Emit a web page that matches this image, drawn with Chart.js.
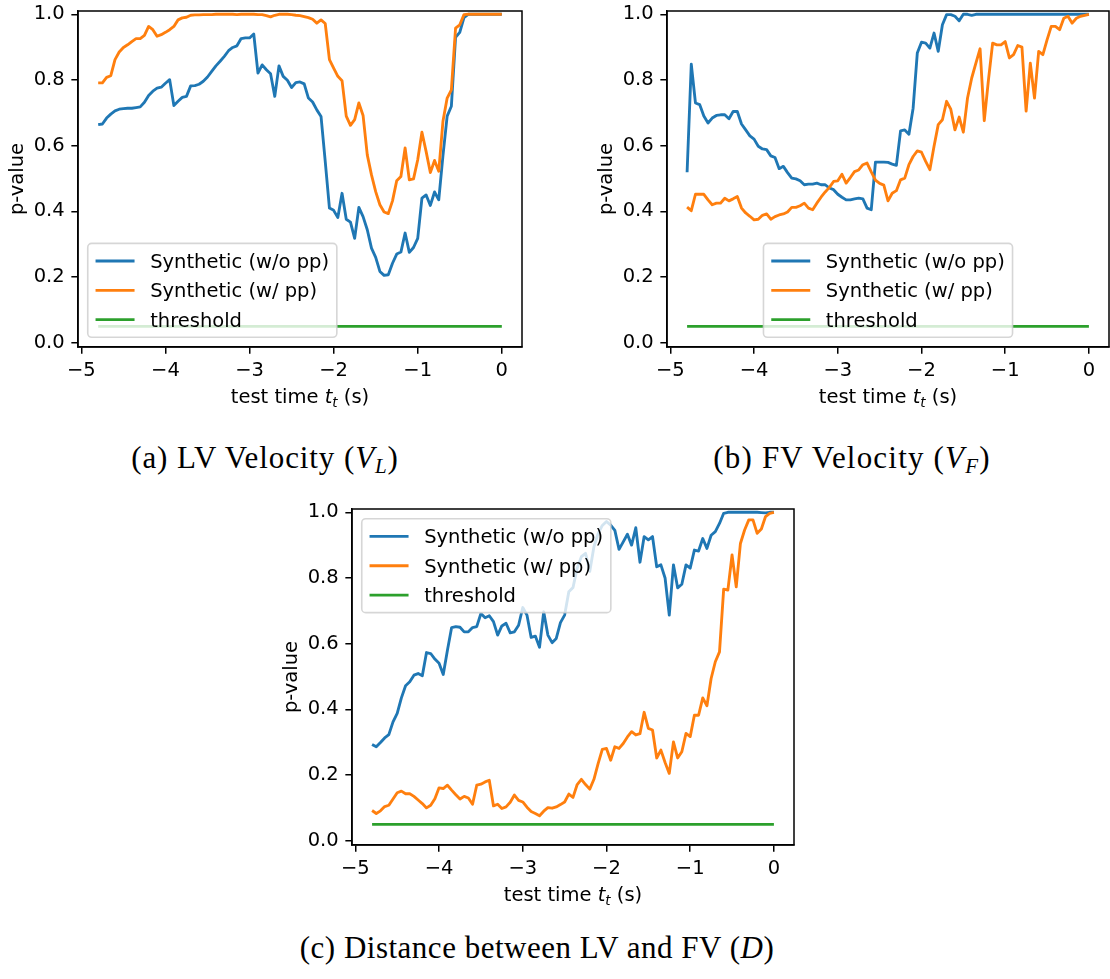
<!DOCTYPE html>
<html>
<head>
<meta charset="utf-8">
<script src="https://cdn.jsdelivr.net/npm/chart.js@4.4.1/dist/chart.umd.min.js"></script>
<style>
  html, body { margin: 0; padding: 0; background: #fff; }
  body { width: 1110px; height: 979px; position: relative; overflow: hidden; }
  canvas { position: absolute; }
  .xlabel {
    position: absolute; font-family: "DejaVu Sans"; font-size: 19.5px; line-height: 19px;
    color: #000; white-space: nowrap; transform: translateX(-50%);
  }
  .xlabel .m { font-style: oblique; }
  .xlabel .sub { font-style: oblique; font-size: 13.5px; vertical-align: -4px; }
  .caption {
    position: absolute; font-family: "Liberation Serif"; font-size: 31px; line-height: 30px;
    letter-spacing: 0.9px; color: #000; white-space: nowrap; transform: translateX(-50%);
  }
  .caption i { font-style: italic; }
  .caption sub { font-size: 21px; vertical-align: -5px; font-style: italic; }
</style>
</head>
<body>
<canvas id="chartLV" width="560" height="420" style="left:0px;top:0px"></canvas>
<canvas id="chartFV" width="521" height="420" style="left:589px;top:0px"></canvas>
<canvas id="chartDist" width="560" height="420" style="left:274px;top:498px"></canvas>

<div class="xlabel" style="left:300px;top:387px">test time <span class="m">t</span><span class="sub">t</span> (s)</div>
<div class="xlabel" style="left:888px;top:387px">test time <span class="m">t</span><span class="sub">t</span> (s)</div>
<div class="xlabel" style="left:573px;top:885px">test time <span class="m">t</span><span class="sub">t</span> (s)</div>

<div class="caption" style="left:265px;top:443px">(a) LV Velocity (<i>V</i><sub>L</sub>)</div>
<div class="caption" style="left:852px;top:443px;letter-spacing:1.2px">(b) FV Velocity (<i>V</i><sub>F</sub>)</div>
<div class="caption" style="left:537px;top:933px;letter-spacing:0.5px">(c) Distance between LV and FV (<i>D</i>)</div>

<script>
// Test time of each evaluation window (s)
const testTime = [
  -4.80,-4.75,-4.70,-4.65,-4.60,-4.55,-4.50,-4.45,-4.40,-4.35,
  -4.30,-4.25,-4.20,-4.15,-4.10,-4.05,-4.00,-3.95,-3.90,-3.85,
  -3.80,-3.75,-3.70,-3.65,-3.60,-3.55,-3.50,-3.45,-3.40,-3.35,
  -3.30,-3.25,-3.20,-3.15,-3.10,-3.05,-3.00,-2.95,-2.90,-2.85,
  -2.80,-2.75,-2.70,-2.65,-2.60,-2.55,-2.50,-2.45,-2.40,-2.35,
  -2.30,-2.25,-2.20,-2.15,-2.10,-2.05,-2.00,-1.95,-1.90,-1.85,
  -1.80,-1.75,-1.70,-1.65,-1.60,-1.55,-1.50,-1.45,-1.40,-1.35,
  -1.30,-1.25,-1.20,-1.15,-1.10,-1.05,-1.00,-0.95,-0.90,-0.85,
  -0.80,-0.75,-0.70,-0.65,-0.60,-0.55,-0.50,-0.45,-0.40,-0.35,
  -0.30,-0.25,-0.20,-0.15,-0.10,-0.05,0.00
];

// (a) LV velocity p-values
const lvNoPP = [
  0.664,0.666,0.684,0.696,0.706,0.711,0.713,0.714,0.714,0.716,
  0.718,0.732,0.753,0.766,0.775,0.778,0.790,0.801,0.722,0.735,
  0.747,0.750,0.782,0.783,0.787,0.796,0.809,0.826,0.843,0.857,
  0.872,0.889,0.899,0.904,0.926,0.928,0.928,0.940,0.821,0.846,
  0.831,0.819,0.750,0.843,0.811,0.799,0.777,0.792,0.794,0.788,
  0.745,0.733,0.709,0.689,0.552,0.410,0.403,0.381,0.455,0.376,
  0.367,0.318,0.412,0.384,0.344,0.288,0.260,0.217,0.205,0.207,
  0.242,0.270,0.276,0.334,0.275,0.290,0.318,0.440,0.450,0.418,
  0.459,0.435,0.570,0.690,0.720,0.930,0.945,0.990,1.000,1.000,
  1.000,1.000,1.000,1.000,1.000,1.000,1.000
];
const lvPP = [
  0.791,0.791,0.808,0.813,0.862,0.885,0.899,0.907,0.917,0.926,
  0.926,0.936,0.963,0.953,0.933,0.938,0.945,0.953,0.963,0.983,
  0.989,0.991,0.997,0.998,0.998,0.999,0.999,0.999,1.000,1.000,
  1.000,1.000,1.000,0.999,1.000,1.000,1.000,1.000,0.999,0.999,
  0.996,0.992,0.997,1.000,1.000,1.000,0.999,0.997,0.996,0.993,
  0.990,0.985,0.973,0.983,0.972,0.862,0.836,0.811,0.798,0.690,
  0.662,0.679,0.730,0.692,0.572,0.511,0.460,0.420,0.398,0.393,
  0.432,0.493,0.506,0.593,0.496,0.499,0.557,0.641,0.582,0.518,
  0.555,0.522,0.674,0.745,0.770,0.958,0.968,0.999,1.000,1.000,
  1.000,1.000,1.000,1.000,1.000,1.000,1.000
];

// (b) FV velocity p-values
const fvNoPP = [
  0.519,0.848,0.730,0.725,0.690,0.669,0.684,0.692,0.694,0.694,
  0.682,0.704,0.704,0.666,0.648,0.630,0.620,0.598,0.590,0.588,
  0.569,0.564,0.530,0.537,0.518,0.501,0.499,0.493,0.481,0.483,
  0.483,0.486,0.481,0.481,0.471,0.466,0.452,0.443,0.435,0.435,
  0.438,0.440,0.438,0.410,0.405,0.550,0.550,0.550,0.549,0.544,
  0.540,0.645,0.648,0.635,0.714,0.882,0.915,0.912,0.897,0.943,
  0.887,0.968,0.999,0.999,0.994,0.980,1.000,1.000,0.997,1.000,
  1.000,1.000,1.000,1.000,1.000,1.000,1.000,1.000,1.000,1.000,
  1.000,1.000,1.000,1.000,1.000,1.000,1.000,1.000,1.000,1.000,
  1.000,1.000,1.000,1.000,1.000,1.000,1.000
];
const fvPP = [
  0.413,0.402,0.452,0.452,0.452,0.435,0.420,0.425,0.425,0.440,
  0.432,0.438,0.445,0.410,0.395,0.385,0.374,0.376,0.388,0.392,
  0.376,0.384,0.389,0.392,0.398,0.412,0.412,0.417,0.425,0.410,
  0.405,0.425,0.443,0.459,0.473,0.491,0.493,0.513,0.486,0.503,
  0.521,0.526,0.542,0.547,0.520,0.495,0.485,0.480,0.432,0.455,
  0.463,0.496,0.501,0.542,0.567,0.584,0.580,0.552,0.527,0.598,
  0.664,0.679,0.735,0.711,0.648,0.687,0.641,0.745,0.806,0.851,
  0.895,0.676,0.800,0.912,0.907,0.907,0.917,0.867,0.877,0.905,
  0.900,0.705,0.851,0.745,0.887,0.877,0.922,0.963,0.963,0.953,
  0.988,0.994,0.973,0.988,0.994,0.997,1.000
];

// (c) LV–FV distance p-values
const distNoPP = [
  0.293,0.286,0.299,0.313,0.323,0.362,0.388,0.435,0.472,0.484,
  0.504,0.509,0.502,0.573,0.570,0.553,0.540,0.506,0.580,0.649,
  0.652,0.650,0.636,0.636,0.649,0.652,0.692,0.679,0.685,0.667,
  0.626,0.654,0.662,0.633,0.636,0.656,0.710,0.687,0.619,0.623,
  0.589,0.697,0.626,0.603,0.616,0.664,0.687,0.758,0.771,0.830,
  0.865,0.875,0.820,0.895,0.935,0.960,0.972,0.961,0.945,0.887,
  0.910,0.933,0.900,0.953,0.848,0.926,0.916,0.926,0.834,0.840,
  0.800,0.687,0.840,0.770,0.781,0.840,0.830,0.885,0.882,0.920,
  0.890,0.930,0.941,0.966,0.997,1.000,1.000,1.000,1.000,1.000,
  1.000,1.000,1.000,0.999,0.998,1.000,1.000
];
const distPP = [
  0.092,0.083,0.091,0.104,0.108,0.127,0.146,0.151,0.143,0.143,
  0.135,0.124,0.113,0.100,0.108,0.128,0.161,0.159,0.169,0.154,
  0.140,0.127,0.135,0.130,0.111,0.169,0.172,0.179,0.184,0.106,
  0.111,0.098,0.103,0.117,0.139,0.123,0.118,0.102,0.089,0.083,
  0.076,0.090,0.101,0.099,0.103,0.110,0.118,0.142,0.132,0.171,
  0.187,0.171,0.157,0.187,0.235,0.278,0.281,0.245,0.286,0.281,
  0.296,0.316,0.332,0.322,0.326,0.391,0.342,0.337,0.252,0.276,
  0.238,0.205,0.301,0.252,0.271,0.327,0.317,0.382,0.382,0.435,
  0.411,0.494,0.545,0.575,0.766,0.763,0.870,0.773,0.905,0.946,
  0.977,0.977,0.936,0.949,0.987,0.997,1.000
];

// Significance threshold (constant over the test window)
const thresholdTime = [-4.8, 0.0];
const thresholdValue = [0.05, 0.05];

// Axis ticks
const xTickValues = [-5, -4, -3, -2, -1, 0];
const yTickValues = [0.0, 0.2, 0.4, 0.6, 0.8, 1.0];

// Series labels and colours
const seriesLabels = ['Synthetic (w/o pp)', 'Synthetic (w/ pp)', 'threshold'];
const seriesColors = ['#1f77b4', '#ff7f0e', '#2ca02c'];

const FONT = 'DejaVu Sans';
const FS = 19.5;
Chart.defaults.font.family = FONT;

const points = (xs, ys) => xs.map((x, i) => ({ x: x, y: ys[i] }));

// Axes frame + boxed legend drawn over the plotted lines
const frameLegend = {
  id: 'frameLegend',
  afterDatasetsDraw(chart, args, opts) {
    const { ctx, chartArea: a } = chart;
    ctx.save();
    ctx.strokeStyle = '#000';
    ctx.lineWidth = 1.5;
    ctx.strokeRect(a.left, a.top, a.right - a.left, a.bottom - a.top);

    const sets = chart.data.datasets;
    ctx.font = FS + 'px "' + FONT + '"';
    const pad = 0.4 * FS, handleLen = 2 * FS, handleGap = 0.8 * FS;
    const rowH = 19.6, spacing = 0.5 * FS, axPad = 0.5 * FS;
    const textW = Math.max(...sets.map(d => ctx.measureText(d.label).width));
    const w = pad * 2 + handleLen + handleGap + textW;
    const h = pad * 2 + sets.length * rowH + (sets.length - 1) * spacing;
    let x0, y0;
    if (opts.loc === 'lower left') { x0 = a.left + axPad; y0 = a.bottom - axPad - h; }
    else if (opts.loc === 'lower center') { x0 = (a.left + a.right) / 2 - w / 2; y0 = a.bottom - axPad - h; }
    else { x0 = a.left + axPad; y0 = a.top + axPad; }

    ctx.beginPath();
    ctx.roundRect(x0, y0, w, h, 4);
    ctx.fillStyle = 'rgba(255,255,255,0.8)';
    ctx.fill();
    ctx.lineWidth = 1.6;
    ctx.strokeStyle = 'rgba(204,204,204,0.8)';
    ctx.stroke();

    sets.forEach((d, i) => {
      const cy = y0 + pad + rowH / 2 + i * (rowH + spacing);
      ctx.beginPath();
      ctx.moveTo(x0 + pad, cy);
      ctx.lineTo(x0 + pad + handleLen, cy);
      ctx.strokeStyle = d.borderColor;
      ctx.lineWidth = 2.85;
      ctx.stroke();
      ctx.fillStyle = '#000';
      ctx.textBaseline = 'alphabetic';
      ctx.textAlign = 'left';
      ctx.fillText(d.label, x0 + pad + handleLen + handleGap, cy + 7);
    });
    ctx.restore();
  }
};

// Scale label padding is dropped so the plot area keeps its fixed box
const fixPadding = s => { s.paddingTop = 0; s.paddingBottom = 0; s.paddingLeft = 0; s.paddingRight = 0; };

function makeChart(id, noPP, pp, loc, padRight) {
  const mkSet = (label, color, data, order) => ({
    label: label, data: data, borderColor: color, backgroundColor: color,
    borderWidth: 2.85, pointRadius: 0, tension: 0, fill: false,
    borderJoinStyle: 'round', borderCapStyle: 'butt', order: order
  });
  const tickFont = { family: FONT, size: FS, lineHeight: 1 };
  return new Chart(document.getElementById(id), {
    type: 'line',
    data: {
      datasets: [
        mkSet(seriesLabels[0], seriesColors[0], points(testTime, noPP), 3),
        mkSet(seriesLabels[1], seriesColors[1], points(testTime, pp), 2),
        mkSet(seriesLabels[2], seriesColors[2], points(thresholdTime, thresholdValue), 1)
      ]
    },
    options: {
      responsive: false, maintainAspectRatio: false, animation: false, events: [],
      layout: { padding: { left: 0, top: 11, right: padRight, bottom: 0 } },
      plugins: { legend: { display: false }, tooltip: { enabled: false }, frameLegend: { loc: loc } },
      scales: {
        x: {
          type: 'linear', min: -5.04, max: 0.24, bounds: 'data',
          afterBuildTicks: s => { s.ticks = xTickValues.map(v => ({ value: v })); },
          afterFit: s => { s.height = 73; fixPadding(s); },
          grid: { display: true, drawOnChartArea: false, drawTicks: true, tickLength: 6.65, color: '#000', lineWidth: 1.5 },
          border: { display: true, color: '#000', width: 1.5 },
          ticks: {
            color: '#000', font: tickFont, padding: 8, maxRotation: 0, autoSkip: false,
            callback: v => (v < 0 ? '\u2212' + Math.abs(v) : String(v))
          }
        },
        y: {
          type: 'linear', min: -0.013, max: 1.01, bounds: 'data',
          afterBuildTicks: s => { s.ticks = yTickValues.map(v => ({ value: v })); },
          afterFit: s => { s.width = 78; fixPadding(s); },
          grid: { display: true, drawOnChartArea: false, drawTicks: true, tickLength: 6.65, color: '#000', lineWidth: 1.5 },
          border: { display: true, color: '#000', width: 1.5 },
          ticks: { color: '#000', font: tickFont, padding: 6.65, autoSkip: false, callback: v => v.toFixed(1) },
          title: { display: true, text: 'p-value', color: '#000', font: { family: FONT, size: FS }, padding: { top: 6.3, bottom: 0 } }
        }
      }
    },
    plugins: [frameLegend]
  });
}

makeChart('chartLV', lvNoPP, lvPP, 'lower left', 38);
makeChart('chartFV', fvNoPP, fvPP, 'lower center', 1);
makeChart('chartDist', distNoPP, distPP, 'upper left', 40);
</script>
</body>
</html>
